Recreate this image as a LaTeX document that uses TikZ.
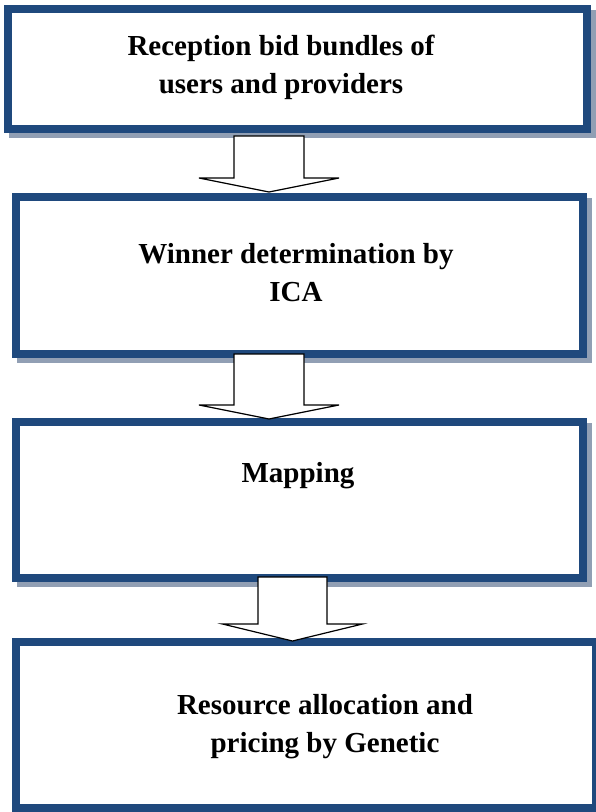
\documentclass[tikz,border=0pt]{standalone}
\usepackage{fontspec}
\setmainfont{Liberation Serif}
\definecolor{boxblue}{RGB}{31,73,125}
\definecolor{shadowgray}{RGB}{145,159,180}

\begin{document}
\begin{tikzpicture}[x=1pt,y=-1pt]
\def\bordw{8pt}; %thickness of the box frame
\def\shoff{5pt}; %shadow offset
\def\headh{14}; %height of the arrow head

\tikzstyle{stage} = [rectangle, draw=boxblue, line width=\bordw, fill=white, inner sep=0mm,
  preaction={draw=shadowgray, line width=\bordw, transform canvas={shift={(\shoff,-\shoff)}}}]
\tikzstyle{steptext} = [inner sep=0mm, align=center, font=\fontsize{29}{38}\selectfont\bfseries]
\tikzstyle{blockarr} = [draw=black, fill=white, line width=1.2pt, line join=miter]

\useasboundingbox (0,0) rectangle (595,812);

% the four stages
\node[stage, minimum width=579pt, minimum height=120pt] (box1) at (297.5,69) {};
\node[stage, minimum width=567pt, minimum height=157pt] (box2) at (299.5,275.5) {};
\node[stage, minimum width=567pt, minimum height=156pt] (box3) at (299.5,500) {};
\node[stage, minimum width=580pt, minimum height=166pt] (box4) at (306,725) {};

\node[steptext] (txt1) at (281,67) {Reception bid bundles of\\users and providers};
\node[steptext] (txt2) at (296,273) {Winner determination by\\ICA};
\node[steptext] (txt3) at (298,476) {Mapping};
\node[steptext] (txt4) at (325,727) {Resource allocation and\\pricing by Genetic};

% block arrows between the stages
\coordinate (arr1) at (269,136);
\coordinate (arr2) at (269,354);
\coordinate (arr3) at (292.5,577);

\draw[blockarr] (arr1) ++(-35,0) -- ++(0,42) -- ++(-35,0) -- ++(70,\headh) -- ++(70,-\headh) -- ++(-35,0) -- ++(0,-42) -- cycle;
\draw[blockarr] (arr2) ++(-35,0) -- ++(0,51) -- ++(-35,0) -- ++(70,\headh) -- ++(70,-\headh) -- ++(-35,0) -- ++(0,-51) -- cycle;
\draw[blockarr] (arr3) ++(-34.5,0) -- ++(0,47) -- ++(-35.5,0) -- ++(70,17) -- ++(70,-17) -- ++(-35.5,0) -- ++(0,-47) -- cycle;

\end{tikzpicture}
\end{document}
